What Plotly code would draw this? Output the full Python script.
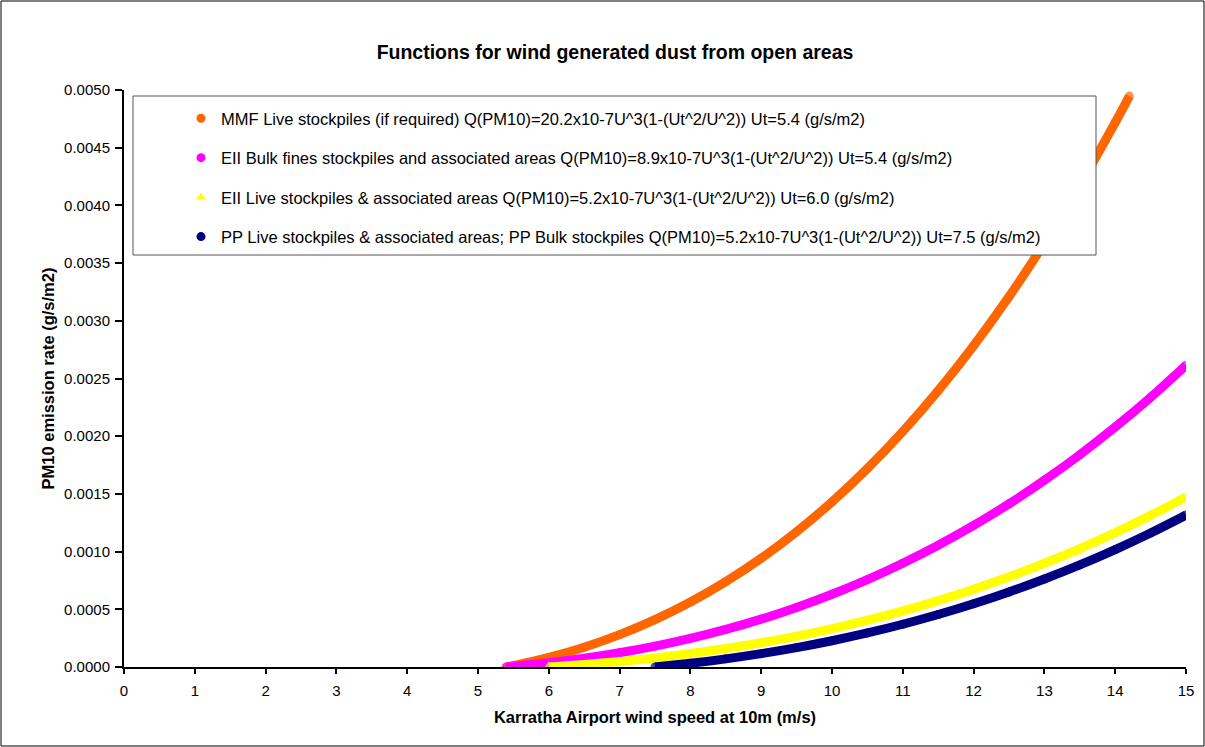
import plotly.graph_objects as go

# ---- data ----
mmf_x = [5.4, 5.5, 6.0, 6.5, 7.0, 7.5, 8.0, 8.5, 9.0, 9.5, 10.0, 10.5, 11.0, 11.5, 12.0, 12.5, 13.0, 13.5, 14.0, 14.2]
mmf_y = [0.0, 0.0000121, 0.0000829, 0.0001719, 0.0002805, 0.0004104, 0.0005630, 0.0007399, 0.0009425, 0.0011723,
         0.0014310, 0.0017199, 0.0020407, 0.0023948, 0.0027837, 0.0032090, 0.0036722, 0.0041748, 0.0047182, 0.0049474]

eiib_x = [5.4, 5.5, 6.0, 6.5, 7.0, 7.5, 8.0, 8.5, 9.0, 9.5, 10.0, 10.5, 11.0, 11.5, 12.0, 12.5, 13.0, 13.5, 14.0, 14.5, 15.0]
eiib_y = [0.0, 0.0000053, 0.0000365, 0.0000757, 0.0001236, 0.0001808, 0.0002481, 0.0003260, 0.0004152, 0.0005165,
          0.0006305, 0.0007578, 0.0008991, 0.0010551, 0.0012265, 0.0014139, 0.0016179, 0.0018394, 0.0020788, 0.0023370, 0.0026145]

eiil_x = [6.0, 6.5, 7.0, 7.5, 8.0, 8.5, 9.0, 9.5, 10.0, 10.5, 11.0, 11.5, 12.0, 12.5, 13.0, 13.5, 14.0, 14.5, 15.0]
eiil_y = [0.0, 0.0000211, 0.0000473, 0.0000790, 0.0001165, 0.0001602, 0.0002106, 0.0002680, 0.0003328, 0.0004054,
          0.0004862, 0.0005756, 0.0006739, 0.0007816, 0.0008991, 0.0010267, 0.0011648, 0.0013138, 0.0014742]

pp_x = [7.5, 8.0, 8.5, 9.0, 9.5, 10.0, 10.5, 11.0, 11.5, 12.0, 12.5, 13.0, 13.5, 14.0, 14.5, 15.0]
pp_y = [0.0, 0.0000322, 0.0000707, 0.0001158, 0.0001680, 0.0002275, 0.0002948, 0.0003704, 0.0004545, 0.0005476,
        0.0006500, 0.0007622, 0.0008845, 0.0010174, 0.0011612, 0.0013163]

names = [
    "MMF Live stockpiles (if required) Q(PM10)=20.2x10-7U^3(1-(Ut^2/U^2)) Ut=5.4 (g/s/m2)",
    "EII Bulk fines stockpiles and associated areas Q(PM10)=8.9x10-7U^3(1-(Ut^2/U^2)) Ut=5.4 (g/s/m2)",
    "EII Live stockpiles & associated areas Q(PM10)=5.2x10-7U^3(1-(Ut^2/U^2)) Ut=6.0 (g/s/m2)",
    "PP Live stockpiles & associated areas; PP Bulk stockpiles Q(PM10)=5.2x10-7U^3(1-(Ut^2/U^2)) Ut=7.5 (g/s/m2)",
]
colors = ["#FF6600", "#FF00FF", "#FFFF00", "#000080"]
symbols = ["circle", "circle", "triangle-up", "circle"]
xs = [mmf_x, eiib_x, eiil_x, pp_x]
ys = [mmf_y, eiib_y, eiil_y, pp_y]

x_ticks = list(range(0, 16))
y_ticks = [i * 0.0005 for i in range(11)]

W, H = 1205, 747
L, R, T, B = 124, 19, 90, 80
PW, PH = W - L - R, H - T - B


def px(x):
    return (x - L) / PW


def py(y):
    return (H - B - y) / PH


FONT = "Arial, Liberation Sans, sans-serif"

fig = go.Figure()
for i in range(4):
    n = len(xs[i])
    if symbols[i] == "circle":
        sizes = [9] * n
    else:
        sizes = [11] + [0] * (n - 2) + [11]
    fig.add_trace(go.Scatter(
        x=xs[i], y=ys[i], mode="lines+markers",
        line=dict(color=colors[i], width=9, shape="spline", smoothing=1),
        marker=dict(color=colors[i], size=sizes, symbol=symbols[i], line=dict(width=0)),
        showlegend=False, hoverinfo="skip"))

for i in range(4):
    fig.add_trace(go.Scatter(
        x=[None], y=[None], mode="markers", name=names[i], legendgroup=str(i),
        marker=dict(color=colors[i], size=9, symbol=symbols[i], line=dict(width=0))))

fig.update_layout(
    width=W, height=H,
    margin=dict(l=L, r=R, t=T, b=B, autoexpand=False),
    paper_bgcolor="white", plot_bgcolor="white",
    font=dict(family=FONT, size=15, color="black"),
    title=dict(text="<b>Functions for wind generated dust from open areas</b>",
               x=615 / W, xref="container", xanchor="center",
               y=1 - 52 / H, yref="container", yanchor="middle",
               font=dict(family=FONT, size=19.5, color="black")),
    xaxis=dict(range=[0, 15], tickvals=x_ticks, ticktext=[str(v) for v in x_ticks],
               showgrid=False, zeroline=False, showline=True, linecolor="black", linewidth=2,
               ticks="outside", ticklen=5, tickwidth=2, tickcolor="black",
               ticklabelstandoff=4,
               tickfont=dict(size=15, family=FONT), fixedrange=True,
               title=dict(text="<b>Karratha Airport wind speed at 10m (m/s)</b>", standoff=13,
                          font=dict(size=16.5, family=FONT))),
    yaxis=dict(range=[0, 0.005], tickvals=y_ticks, tickformat=".4f",
               showgrid=False, zeroline=False, showline=True, linecolor="black", linewidth=2,
               ticks="outside", ticklen=7, tickwidth=2, tickcolor="black",
               ticklabelstandoff=2,
               tickfont=dict(size=15, family=FONT), fixedrange=True,
               title=dict(text="<b>PM10 emission rate (g/s/m2)</b>", standoff=5,
                          font=dict(size=16.5, family=FONT))),
    legend=dict(x=px(181), y=py(101), xanchor="left", yanchor="top",
                bgcolor="rgba(0,0,0,0)", borderwidth=0,
                font=dict(size=16.5, family=FONT, color="black"),
                tracegroupgap=15, itemsizing="trace"),
    shapes=[
        dict(type="rect", xref="paper", yref="paper",
             x0=px(133), x1=px(1096), y0=py(96), y1=py(255),
             fillcolor="white", line=dict(color="#555555", width=1), layer="above"),
        dict(type="rect", xref="paper", yref="paper",
             x0=px(1), x1=px(1204), y0=py(1), y1=py(746),
             fillcolor="rgba(0,0,0,0)", line=dict(color="black", width=1), layer="above"),
    ],
)

fig.write_html("out.html")
